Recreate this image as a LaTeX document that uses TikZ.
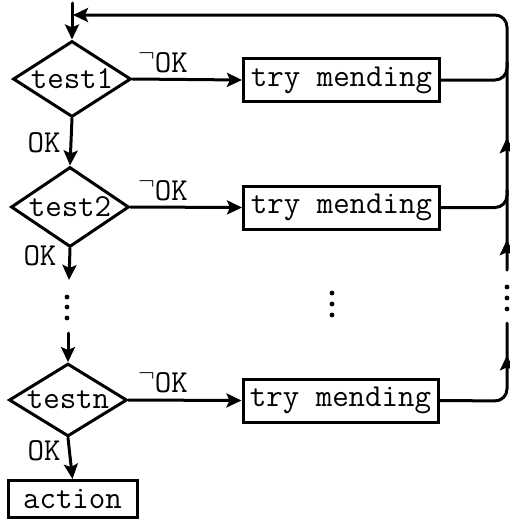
\documentclass[tikz,border=0pt]{standalone}
\usepackage{fontspec}
\usetikzlibrary{shapes.geometric,arrows.meta,decorations.markings}
\tikzset{
  every node/.style={font=\fontsize{32}{36}\selectfont\ttfamily},
  flow/.style={line width=3pt, line cap=round, line join=round},
  tip/.style={-{Stealth[length=15pt,width=14pt,inset=3pt]}},
  testbox/.style={draw, line width=3pt, diamond, aspect=1.5, inner sep=0pt,
    minimum width=118pt, minimum height=76pt},
  mendbox/.style={draw, line width=3pt, rectangle, inner sep=0pt,
    minimum width=196pt, minimum height=43pt},
  lbl/.style={inner sep=0pt},
  midtip/.style={postaction={decorate}, decoration={markings,
    mark=at position #1 with {\arrow{Stealth[length=15pt,width=14pt,inset=3pt]}}}},
  dotmark/.style={fill=black}
}
\newcommand{\notok}{\raisebox{0.34em}{$\neg$}OK}
\begin{document}
\begin{tikzpicture}[x=1pt,y=-1pt]
\useasboundingbox (0,0) rectangle (510,520);
% nodes
\node[testbox] (d1) at (72,79) {test1};
\node[testbox, minimum height=80pt] (d2) at (70,207) {test2};
\node[testbox, minimum height=72pt] (dn) at (68,400) {testn};
\node[mendbox] (b1) at (341.5,80) {try mending};
\node[mendbox] (b2) at (341.5,207.5) {try mending};
\node[mendbox, minimum width=195pt] (bn) at (340.5,400.5) {try mending};
\node[draw, line width=3pt, inner sep=0pt, minimum width=129pt, minimum height=37pt] (act) at (72.5,499) {action};
% labels
\node[lbl] (n1) at (163,62) {\notok};
\node[lbl] (n2) at (163,190) {\notok};
\node[lbl] (n3) at (163,382) {\notok};
\node[lbl] (o1) at (44,143) {OK};
\node[lbl] (o2) at (40,256) {OK};
\node[lbl] (o3) at (44,451) {OK};
% coordinates
\coordinate (start) at (72,3);
\coordinate (ltop) at (73,15);
\coordinate (rtop) at (507,15);
\coordinate (rhigh) at (507,270);
\coordinate (rlow) at (507,323);
\coordinate (rcorner) at (507,401);
\coordinate (lend) at (69,280);
\coordinate (lres) at (68,333);
% left flow
\draw[flow, tip] (start) -- (d1.north);
\draw[flow, tip] (d1.south) -- (d2.north);
\draw[flow, tip] (d2.south) -- (lend);
\draw[flow, tip] (lres) -- (dn.north);
\draw[flow, tip] (dn.south) -- (act.north);
% to mending
\draw[flow, tip] (d1.east) -- (b1.west);
\draw[flow, tip] (d2.east) -- (b2.west);
\draw[flow, tip] (dn.east) -- (bn.west);
% return lines
\draw[flow, rounded corners=12pt] (b1.east) -| (507,62);
\draw[flow, rounded corners=12pt] (b2.east) -| (507,190);
\draw[flow, rounded corners=12pt, midtip=108pt] (bn.east) -- (rcorner) -- (rlow);
\draw[flow, rounded corners=12pt, tip, midtip=30pt, midtip=132pt] (rhigh) -- (rtop) -- (ltop);
% dots
\foreach \y in {287,298,309} \fill[dotmark] (507,\y) circle (2.4pt);
\foreach \y in {293,304,315} \fill[dotmark] (332,\y) circle (2.4pt);
\foreach \y in {297,307,318} \fill[dotmark] (67,\y) circle (2.4pt);
\end{tikzpicture}
\end{document}
